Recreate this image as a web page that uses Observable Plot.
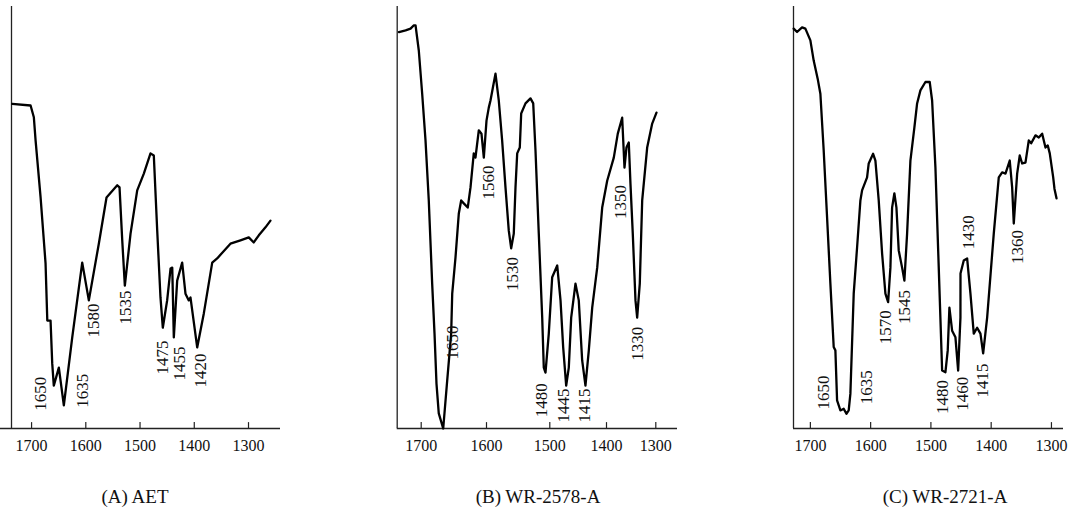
<!DOCTYPE html>
<html>
<head>
<meta charset="utf-8">
<script src="https://cdn.jsdelivr.net/npm/d3@7"></script>
<script src="https://cdn.jsdelivr.net/npm/@observablehq/plot@0.6"></script>
<style>
  html, body { margin: 0; padding: 0; background: #fff; }
  #root { position: relative; width: 1077px; height: 525px; overflow: hidden; background: #fff; }
  .panel { position: absolute; top: 0; }
  .cap { position: absolute; top: 486px; transform: translateX(-50%); font-family: 'Liberation Serif', 'DejaVu Serif', serif; font-size: 19px; color: #111; white-space: nowrap; }
</style>
</head>
<body>
<div id="root"></div>
<script>
// ---------- data ----------
const tickValues = [1700, 1600, 1500, 1400, 1300];
const captions = ["(A) AET", "(B) WR-2578-A", "(C) WR-2721-A"];

// Panel A : AET
const waveA = [1735.6, 1701.8, 1695.8, 1692.6, 1683.4, 1674.2, 1671, 1665, 1661.9, 1659, 1649.7, 1640.5, 1625, 1606.6, 1594.4, 1576, 1561.8, 1542, 1537.8, 1532.8, 1528, 1517.5, 1505.2, 1493, 1480.7, 1474.6, 1468.3, 1462.3, 1458, 1450, 1443.7, 1440.6, 1437.7, 1431.5, 1422.3, 1416.2, 1410.1, 1407, 1394.6, 1382.4, 1366.9, 1357.8, 1333.3, 1314.8, 1299.5, 1290.3, 1281, 1268.7, 1259.5];
const transA = [77.3, 76.9, 74.1, 68.6, 55.1, 39.3, 25.7, 25.7, 15.5, 10.2, 14.5, 5.5, 21.7, 39.5, 30.5, 44, 55, 57.9, 57.4, 44.8, 34, 46.4, 56.7, 60.7, 65.5, 65, 47.1, 31.2, 24, 30.5, 38.1, 38.3, 21.7, 35.2, 39.5, 32.1, 30.5, 31.2, 19.3, 27.4, 39.5, 40.5, 44, 44.8, 45.5, 44.3, 46, 47.9, 49.5];
const labelTextA = ["1650", "1635", "1580", "1535", "1475", "1455", "1420"];
const labelWaveA = [1683.4, 1606.6, 1585.2, 1526.8, 1459, 1427.2, 1388.5];
const labelTransA = [8.3, 9, 25.7, 28.8, 16.9, 15.5, 13.8];

// Panel B : WR-2578-A
const waveB = [1734.3, 1724, 1716.4, 1711.3, 1708.7, 1703.7, 1698.5, 1693.4, 1688.4, 1683.2, 1679.6, 1676.6, 1673.1, 1666.3, 1660.2, 1654.1, 1652.5, 1647.5, 1642.4, 1638.8, 1634.8, 1628.7, 1624.5, 1619.5, 1616.9, 1611.8, 1607.7, 1604.1, 1600, 1596.4, 1593.7, 1590.1, 1585.8, 1580.6, 1575.3, 1570, 1564.8, 1561, 1556.9, 1554.2, 1551.5, 1547.4, 1545.2, 1538.4, 1530.5, 1526.2, 1522.6, 1517.4, 1512, 1509.5, 1506.8, 1501.6, 1495.8, 1486.9, 1481.1, 1476.4, 1471.1, 1466.5, 1462.3, 1454.7, 1448.9, 1442.9, 1437.1, 1431.2, 1425.2, 1416.4, 1407.6, 1398.6, 1385.2, 1377.1, 1368.2, 1363.5, 1359.5, 1354.8, 1351.4, 1346.7, 1341.2, 1337.8, 1332.5, 1327.6, 1317.5, 1307.3, 1298.6];
const transB = [94.4, 94.8, 95.2, 96, 96, 90, 79.7, 68.6, 54.3, 34.5, 22.6, 10.7, 3.6, 0, 11.4, 22.6, 32.1, 40.7, 51.2, 54.3, 53.6, 52.6, 57.4, 65.5, 64.5, 71, 70.2, 64.5, 73.3, 76.4, 78.1, 81, 84.5, 78.1, 68.6, 57.4, 47.1, 42.9, 46.4, 57.4, 65.5, 66.9, 75, 77.4, 78.6, 77.4, 66.2, 46.4, 26.4, 14.5, 13.3, 22.6, 36, 38.8, 30.5, 19.3, 10.2, 14.5, 26.4, 34.5, 30.5, 16.2, 10.2, 18.6, 28.8, 38.3, 52.6, 59, 64.5, 70.2, 74, 62.1, 66.9, 68.1, 58.3, 46.4, 30.5, 26.4, 34.5, 54.3, 66.9, 72.6, 75.2];
const labelTextB = ["1650", "1560", "1530", "1480", "1445", "1415", "1350", "1330"];
const labelWaveB = [1652.5, 1596.4, 1559.4, 1513.6, 1476.4, 1438.9, 1372.2, 1337.8];
const labelTransB = [20.5, 58.6, 36.8, 6.7, 5.5, 5.5, 53.9, 20.2];

// Panel C : WR-2721-A
const waveC = [1727.7, 1722.1, 1713.8, 1708.3, 1700, 1694.5, 1687.9, 1683.4, 1677.9, 1672.3, 1666.8, 1661.3, 1658.5, 1655.7, 1650.2, 1644.7, 1640.2, 1636.4, 1633.6, 1628.1, 1622.5, 1617, 1614.2, 1605.9, 1603.2, 1595.9, 1592.1, 1586.6, 1581, 1575.5, 1571, 1567.2, 1564.4, 1560.6, 1557.2, 1553.4, 1547.8, 1544, 1539.5, 1534, 1527.4, 1522.9, 1517.4, 1509.1, 1502, 1498, 1492.5, 1487, 1481.4, 1475.9, 1472.1, 1469.3, 1464.8, 1459.3, 1454.8, 1451, 1450.9, 1445.5, 1439.9, 1434.4, 1428.9, 1423.3, 1417.8, 1413.3, 1406.7, 1395.7, 1387.4, 1381.8, 1376.3, 1369.2, 1365.2, 1362.5, 1356.9, 1352.6, 1348.6, 1343.1, 1337.6, 1333.6, 1326.5, 1321, 1315.4, 1309.9, 1306.1, 1302.8, 1297.1, 1295, 1291.6];
const transC = [95.2, 94.4, 95.5, 95.2, 92.4, 87.6, 83.3, 79.7, 66.2, 50.3, 34.5, 19.4, 18.6, 6.7, 4.3, 4.7, 3.5, 4.3, 8.3, 32.1, 43.1, 54.3, 56.7, 59.8, 63.1, 65.4, 63.8, 54.3, 41.7, 32.1, 30.1, 38.3, 52.6, 56, 52.6, 42.4, 38.3, 35.2, 46.4, 63.8, 71.7, 77.4, 80.5, 82.5, 82.5, 78.1, 62.1, 38.3, 13.8, 13.4, 18.6, 28.8, 23.3, 21.7, 13.8, 26.4, 36.9, 40, 40.5, 32.1, 22.6, 24, 22.6, 17.9, 26.4, 46.4, 59.8, 61, 60.7, 63.8, 57.4, 48.8, 60.7, 65, 63.1, 63.3, 68.6, 67.9, 69.8, 69.3, 70.2, 66.9, 67.4, 65.5, 59.8, 57.1, 54.8];
const labelTextC = ["1650", "1635", "1570", "1545", "1480", "1460", "1415", "1430", "1360"];
const labelWaveC = [1678.9, 1607, 1575.5, 1544, 1481.4, 1448.2, 1415, 1437.2, 1356.9];
const labelTransC = [8.6, 9.8, 24.1, 28.9, 7.5, 8.3, 11.4, 46.7, 43.2];

// ---------- drawing ----------
const serif = "'Liberation Serif', 'DejaVu Serif', serif";
const root = document.getElementById("root");

// Each chart-paper axis: wavenumber -> paper position (piecewise where the paper is uneven)
const paperA = d3.scaleLinear().domain([1737, 1241]).range([0, 269]);
const paperB = d3.scaleLinear().domain([1737, 1700, 1600, 1500, 1400, 1300, 1256]).range([0, 24, 89.3, 152.6, 209.3, 258.6, 280.3]);
const paperC = d3.scaleLinear().domain([1728, 1280]).range([0, 270]);

function panel({left, width, marginLeft, paper, wave, trans, lt, lw, ltr, lineStart}) {
  const curve = wave.map((w, i) => ({p: paper(w), t: trans[i]}));
  const labels = lt.map((s, i) => ({text: s, p: paper(lw[i]), t: ltr[i]}));
  const pr = paper.range();
  const pEnd = pr[pr.length - 1];
  const ticks = tickValues.map(v => paper(v));
  const chart = Plot.plot({
    width, height: 460,
    marginTop: 8, marginBottom: 32, marginLeft, marginRight: width - marginLeft - pEnd,
    x: {domain: [0, pEnd], axis: null},
    y: {domain: [0, 100], axis: null},
    style: {fontFamily: serif, fontSize: "16px", background: "transparent", color: "#111"},
    marks: [
      Plot.ruleY([0], {x1: lineStart, x2: pEnd, stroke: "#222", strokeWidth: 1.3}),
      Plot.ruleX([0], {y1: 0, y2: 100.5, stroke: "#222", strokeWidth: 1.3}),
      Plot.ruleX(ticks, {y1: 0, y2: 1.4, stroke: "#222", strokeWidth: 1.2}),
      Plot.axisX(ticks, {label: null, tickSize: 0, tickPadding: 11, fontSize: 16, fill: "#111",
        tickFormat: v => String(Math.round(paper.invert(v)))}),
      Plot.line(curve, {x: "p", y: "t", stroke: "#000", strokeWidth: 2.3, strokeLinejoin: "round", strokeLinecap: "round"}),
      Plot.text(labels, {x: "p", y: "t", text: "text", rotate: -90, fontSize: 17, fill: "#111"})
    ]
  });
  const div = document.createElement("div");
  div.className = "panel";
  div.style.left = left + "px";
  div.appendChild(chart);
  root.appendChild(div);
}

panel({left: 0, width: 300, marginLeft: 11, paper: paperA, lineStart: -11,
  wave: waveA, trans: transA, lt: labelTextA, lw: labelWaveA, ltr: labelTransA});
panel({left: 380, width: 310, marginLeft: 16.7, paper: paperB, lineStart: 0,
  wave: waveB, trans: transB, lt: labelTextB, lw: labelWaveB, ltr: labelTransB});
panel({left: 780, width: 297, marginLeft: 13, paper: paperC, lineStart: 0,
  wave: waveC, trans: transC, lt: labelTextC, lw: labelWaveC, ltr: labelTransC});

// captions
const capX = [135, 538, 945];
captions.forEach((c, i) => {
  const d = document.createElement("div");
  d.className = "cap";
  d.style.left = capX[i] + "px";
  d.textContent = c;
  root.appendChild(d);
});
</script>
</body>
</html>
